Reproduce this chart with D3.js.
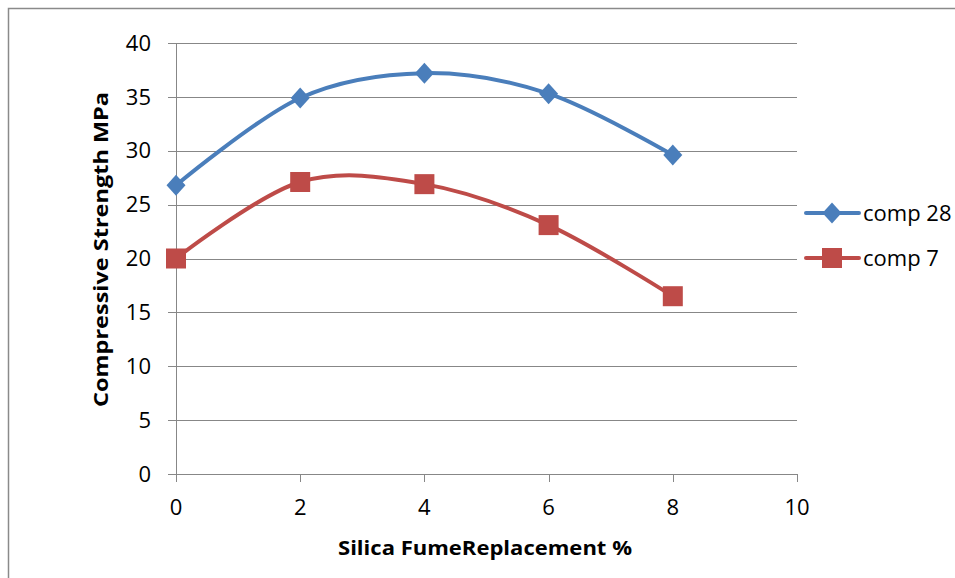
<!DOCTYPE html>
<html><head><meta charset="utf-8">
<script src="https://cdn.jsdelivr.net/npm/d3@7/dist/d3.min.js"></script>
<style>body{margin:0;background:#fff}svg{display:block}text{font-family:"Open Sans",Lato,sans-serif;fill:#000}</style>
</head><body><svg id="c" width="955" height="578"></svg>
<script>
const xValues = [0, 2, 4, 6, 8];
const comp28 = [26.8, 34.9, 37.2, 35.3, 29.6];
const comp7 = [20.0, 27.1, 26.9, 23.1, 16.5];
const seriesNames = ["comp 28", "comp 7"];
const xTicks = [0, 2, 4, 6, 8, 10];
const yTicks = [0, 5, 10, 15, 20, 25, 30, 35, 40];

const svg = d3.select("#c");
svg.append("rect").attr("x", 8.5).attr("y", 8.5).attr("width", 1000).attr("height", 1000)
  .attr("fill", "none").attr("stroke", "#8a8a8a").attr("stroke-width", 1.5);

const x = d3.scaleLinear().domain([0, 10]).range([176, 797]);
const y = d3.scaleLinear().domain([0, 40]).range([474, 43]);
const grid = "#878787";
const fs = 22;

svg.append("g").selectAll("line").data(yTicks).join("line")
  .attr("x1", 168).attr("x2", 797)
  .attr("y1", d => Math.round(y(d)) + 0.5).attr("y2", d => Math.round(y(d)) + 0.5)
  .attr("stroke", grid).attr("stroke-width", 1);
svg.append("line").attr("x1", 176.5).attr("x2", 176.5).attr("y1", 43).attr("y2", 474)
  .attr("stroke", grid);
svg.append("g").selectAll("line").data(xTicks).join("line")
  .attr("x1", d => Math.round(x(d)) + 0.5).attr("x2", d => Math.round(x(d)) + 0.5)
  .attr("y1", 474).attr("y2", 482).attr("stroke", grid);

svg.append("g").selectAll("text").data(yTicks).join("text")
  .attr("x", 151).attr("y", d => y(d)).attr("dy", "0.35em").attr("text-anchor", "end")
  .attr("font-size", fs).text(d => d);
svg.append("g").selectAll("text").data(xTicks).join("text")
  .attr("x", d => x(d)).attr("y", 507).attr("dy", "0.35em").attr("text-anchor", "middle")
  .attr("font-size", fs).text(d => d);

svg.append("text").attr("x", 338).attr("y", 548).attr("dy", "0.35em")
  .attr("textLength", 294).attr("lengthAdjust", "spacingAndGlyphs")
  .attr("font-size", 19).attr("font-weight", "bold").text("Silica FumeReplacement %");
svg.append("text").attr("transform", "translate(101,407) rotate(-90)").attr("dy", "0.35em")
  .attr("textLength", 315).attr("lengthAdjust", "spacingAndGlyphs")
  .attr("font-size", 19).attr("font-weight", "bold")
  .text("Compressive Strength MPa");

const series = [
  {name: seriesNames[0], vals: comp28, color: "#4A7EBB", shape: "diamond"},
  {name: seriesNames[1], vals: comp7, color: "#BE4B48", shape: "square"}
];
const line = d3.line().x(d => x(d[0])).y(d => y(d[1])).curve(d3.curveCardinal.tension(0));

function marker(g, shape, cx, cy, color) {
  if (shape === "diamond") {
    g.append("path").attr("d", `M${cx},${cy-10.5}L${cx+9.5},${cy}L${cx},${cy+10.5}L${cx-9.5},${cy}Z`)
      .attr("fill", color);
  } else {
    g.append("rect").attr("x", cx - 10).attr("y", cy - 10).attr("width", 20).attr("height", 20)
      .attr("fill", color);
  }
}

series.forEach(s => {
  const pts = xValues.map((xv, i) => [xv, s.vals[i]]);
  svg.append("path").attr("d", line(pts)).attr("fill", "none").attr("stroke", s.color)
    .attr("stroke-width", 4).attr("stroke-linecap", "round");
  const g = svg.append("g");
  pts.forEach(p => marker(g, s.shape, x(p[0]), y(p[1]), s.color));
});

const legY = [213, 258];
series.forEach((s, i) => {
  const g = svg.append("g");
  g.append("line").attr("x1", 806).attr("x2", 859).attr("y1", legY[i]).attr("y2", legY[i])
    .attr("stroke", s.color).attr("stroke-width", 4).attr("stroke-linecap", "round");
  marker(g, s.shape, 832, legY[i], s.color);
  g.append("text").attr("x", 863).attr("y", legY[i]).attr("dy", "0.35em").attr("font-size", 22)
    .text(s.name);
});
</script></body></html>
